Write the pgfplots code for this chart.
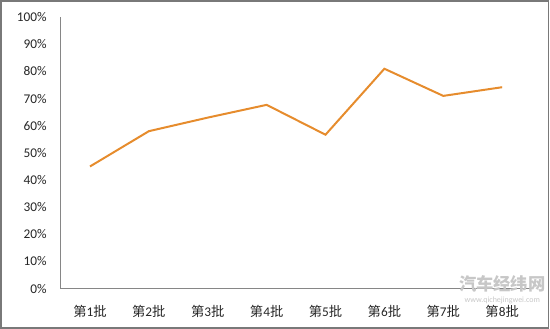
\documentclass[border=0pt]{standalone}
\usepackage{pgfplots}
\pgfplotsset{compat=1.18}
\usepackage{fontspec}
\setmainfont{Carlito}
\newfontfamily\cjk{Noto Sans CJK SC}
\definecolor{lineorange}{RGB}{230,140,45}
\definecolor{axgray}{RGB}{134,134,134}
\begin{document}
\begin{tikzpicture}
\begin{axis}[
  scale only axis, width=354pt, height=204pt,
  xmin=0.5, xmax=8.5, ymin=0, ymax=100,
  axis x line*=bottom, axis y line*=left,
  axis line style={axgray, line width=0.75pt, -},
  xtick={1,2,3,4,5,6,7,8},
  xticklabels={{\cjk 第}1{\cjk 批},{\cjk 第}2{\cjk 批},{\cjk 第}3{\cjk 批},{\cjk 第}4{\cjk 批},{\cjk 第}5{\cjk 批},{\cjk 第}6{\cjk 批},{\cjk 第}7{\cjk 批},{\cjk 第}8{\cjk 批}},
  ytick={0,10,20,30,40,50,60,70,80,90,100},
  yticklabels={0\%,10\%,20\%,30\%,40\%,50\%,60\%,70\%,80\%,90\%,100\%},
  major tick length=0pt,
  tick label style={font=\fontsize{10}{12}\selectfont, black!85},
  xticklabel style={yshift=-9pt},
  yticklabel style={xshift=-7pt},
  /pgf/number format/assume math mode=true,
  clip=false,
]
\addplot[color=lineorange, line width=1.5pt, mark=none] coordinates {
  (1,45) (2,58) (3,63) (4,67.7) (5,56.7) (6,81) (7,71) (8,74.2)
};
\draw[color=axgray!90!black, line width=1.2pt]
  ([xshift=-44.9pt,yshift=-29.5pt]rel axis cs:0,0) rectangle ([xshift=12.65pt,yshift=12.3pt]rel axis cs:1,1);
\node[anchor=center, text=black!22, font=\cjk\bfseries\fontsize{13}{14}\selectfont] at ([xshift=-22pt,yshift=3.5pt]rel axis cs:1,0) {汽车经纬网};
\node[anchor=center, text=black!22, font=\fontsize{6}{7}\selectfont] at ([xshift=-22pt,yshift=-9pt]rel axis cs:1,0) {www.qichejingwei.com};
\end{axis}
\end{tikzpicture}
\end{document}
